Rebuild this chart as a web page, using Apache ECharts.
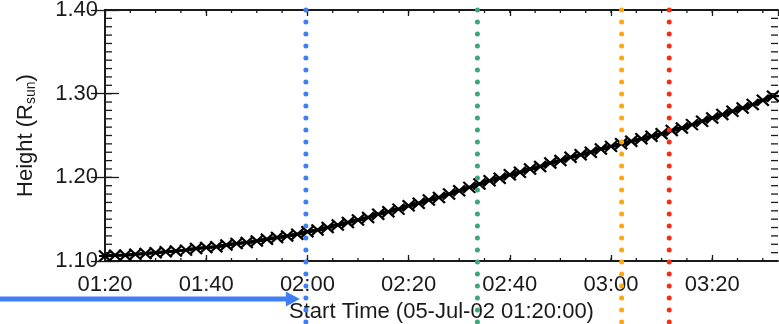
<!DOCTYPE html>
<html>
<head>
<meta charset="utf-8">
<script src="https://cdn.jsdelivr.net/npm/echarts@6/dist/echarts.min.js"></script>
<style>
html,body{margin:0;padding:0;background:#fff;}
#c{width:779px;height:324px;}
</style>
</head>
<body>
<div id="c"></div>
<script>
// ---- data (minutes after 05-Jul-02 01:20:00) ----
const timesMin = [0,2,4,6,8,10,12,14,16,18,20,22,24,26,28,30,32,34,36,38,40,42,44,46,48,50,52,54,56,58,60,62,64,66,68,70,72,74,76,78,80,82,84,86,88,90,92,94,96,98,100,102,104,106,108,110,112,114,116,118,120,122,124,126,128,130,132];
const heights = [1.106,1.107,1.107,1.108,1.109,1.110,1.111,1.112,1.113,1.115,1.116,1.117,1.119,1.121,1.122,1.124,1.126,1.128,1.130,1.132,1.135,1.137,1.140,1.143,1.146,1.149,1.152,1.156,1.159,1.162,1.166,1.169,1.173,1.176,1.180,1.184,1.188,1.192,1.196,1.199,1.203,1.206,1.210,1.213,1.217,1.220,1.224,1.227,1.230,1.234,1.237,1.240,1.243,1.246,1.249,1.252,1.256,1.259,1.263,1.267,1.271,1.275,1.279,1.283,1.287,1.292,1.297];
const xTickLabels = ['01:20','01:40','02:00','02:20','02:40','03:00','03:20'];
const yTickLabels = ['1.10','1.20','1.30','1.40'];
const vLineTimes = [39.7, 73.6, 102.1, 111.5];
const xTitle = 'Start Time (05-Jul-02 01:20:00)';

// ---- axis settings / styles ----
const X_MIN = 0, X_MAX = 133, X_MAJ = 20, X_MINOR = 5;
const Y_MIN = 1.1, Y_MAX = 1.4, Y_MAJ = 0.1, Y_MINOR = 0.01;
const vLineColors = ['#3f7ef4','#3aa878','#fda60e','#fa2d10'];
const FONT = 'Liberation Sans';
const TXT = '#1a1a1a';

// minor tick positions (axis decoration, derived from the axis settings)
const xMinorTicks = [];
for (let v = X_MIN; v <= X_MAX + 1e-9; v += X_MINOR) xMinorTicks.push(v);
const yMinorTicks = [];
for (let k = 0; k <= Math.round((Y_MAX - Y_MIN) / Y_MINOR); k++) yMinorTicks.push(+(Y_MIN + k * Y_MINOR).toFixed(4));

const chart = echarts.init(document.getElementById('c'), null, {renderer:'canvas'});
const lineOn = {show:true, lineStyle:{color:TXT, width:1.8}};
const majTickX = {show:true, inside:true, length:6, lineStyle:{color:TXT, width:1.3}};
const majTickY = {show:true, inside:true, length:14, lineStyle:{color:TXT, width:1.3}};
const option = {
  backgroundColor:'#fff',
  animation:false,
  grid:{left:105, right:1, top:10, bottom:63, containLabel:false, outerBoundsMode:'none'},
  xAxis:[{
    type:'value', min:X_MIN, max:X_MAX, interval:X_MAJ, position:'bottom',
    axisLine:lineOn, axisTick:majTickX, splitLine:{show:false},
    axisLabel:{show:true, margin:13, fontFamily:FONT, fontSize:22, color:TXT, showMaxLabel:false,
      formatter:v=>{const i=Math.round(v/X_MAJ); return (Math.abs(v-i*X_MAJ)<1e-6 && xTickLabels[i])?xTickLabels[i]:'';}},
    name:xTitle, nameLocation:'middle', nameGap:32,
    nameTextStyle:{fontFamily:FONT, fontSize:22, color:TXT}
  },{
    type:'value', min:X_MIN, max:X_MAX, interval:X_MAJ, position:'top',
    axisLine:lineOn, axisTick:majTickX, splitLine:{show:false}, axisLabel:{show:false}
  }],
  yAxis:[{
    type:'value', min:Y_MIN, max:Y_MAX, interval:Y_MAJ, position:'left',
    axisLine:lineOn, axisTick:majTickY, splitLine:{show:false},
    axisLabel:{show:true, margin:7, fontFamily:FONT, fontSize:22, color:TXT,
      formatter:v=>{const i=Math.round((v-Y_MIN)/Y_MAJ); return yTickLabels[i]||'';}},
    name:'Height (R{sub|sun})', nameLocation:'middle', nameGap:67, nameRotate:90,
    nameTextStyle:{fontFamily:FONT, fontSize:22, color:TXT,
      rich:{sub:{fontFamily:FONT, fontSize:14, color:TXT, padding:[10,0,0,0]}}}
  },{
    type:'value', min:Y_MIN, max:Y_MAX, interval:Y_MAJ, position:'right',
    axisLine:lineOn, axisTick:majTickY, splitLine:{show:false}, axisLabel:{show:false}
  }],
  series:[{
    // minor ticks on all four frame sides
    type:'custom', xAxisIndex:0, yAxisIndex:0, clip:false, z:1, silent:true,
    data: xMinorTicks.map(v=>[v, Y_MIN, 1]).concat(yMinorTicks.map(v=>[X_MIN, v, 0])),
    renderItem:(params, api)=>{
      const cs = params.coordSys;
      const st = {stroke:TXT, lineWidth:1.3};
      if (api.value(2) === 1) {
        const x = api.coord([api.value(0), Y_MIN])[0];
        return {type:'group', children:[
          {type:'line', shape:{x1:x, y1:cs.y+cs.height, x2:x, y2:cs.y+cs.height-3}, style:st},
          {type:'line', shape:{x1:x, y1:cs.y, x2:x, y2:cs.y+3}, style:st}
        ]};
      }
      const y = api.coord([X_MIN, api.value(1)])[1];
      return {type:'group', children:[
        {type:'line', shape:{x1:cs.x, y1:y, x2:cs.x+7, y2:y}, style:st},
        {type:'line', shape:{x1:cs.x+cs.width, y1:y, x2:cs.x+cs.width-7, y2:y}, style:st}
      ]};
    }
  },{
    type:'line', xAxisIndex:0, yAxisIndex:0,
    data: timesMin.map((t,i)=>[t, heights[i]]),
    showAllSymbol:true,
    symbol:'path://M0,0L10,10M10,0L0,10M0,5L10,5',
    symbolSize:[12,11],
    itemStyle:{color:'#000', borderColor:'#000', borderWidth:2.2},
    lineStyle:{color:'#000', width:3},
    z:3
  },{
    type:'custom', xAxisIndex:0, yAxisIndex:0, clip:false, z:5,
    data: vLineTimes.map((t,i)=>[t, i]),
    renderItem:(params, api)=>{
      const x = api.coord([api.value(0), Y_MAX])[0];
      const top = params.coordSys.y;
      const bottom = api.getHeight();
      return {type:'line', shape:{x1:x, y1:top, x2:x, y2:bottom},
        style:{stroke:vLineColors[api.value(1)], lineWidth:5, lineDash:[0.1,11.9], lineCap:'round'}};
    }
  }]
};
chart.setOption(option);

// annotation arrow pointing at the first vertical line
const tipX = chart.convertToPixel({xAxisIndex:0}, vLineTimes[0]) - 6;
const ay = 299;
chart.setOption({graphic:[
  {type:'line', shape:{x1:0, y1:ay, x2:tipX-10, y2:ay}, style:{stroke:vLineColors[0], lineWidth:5}, z:10},
  {type:'polygon', shape:{points:[[tipX-14,ay-7.5],[tipX,ay],[tipX-14,ay+7.5]]}, style:{fill:vLineColors[0]}, z:10}
]});
</script>
</body>
</html>
